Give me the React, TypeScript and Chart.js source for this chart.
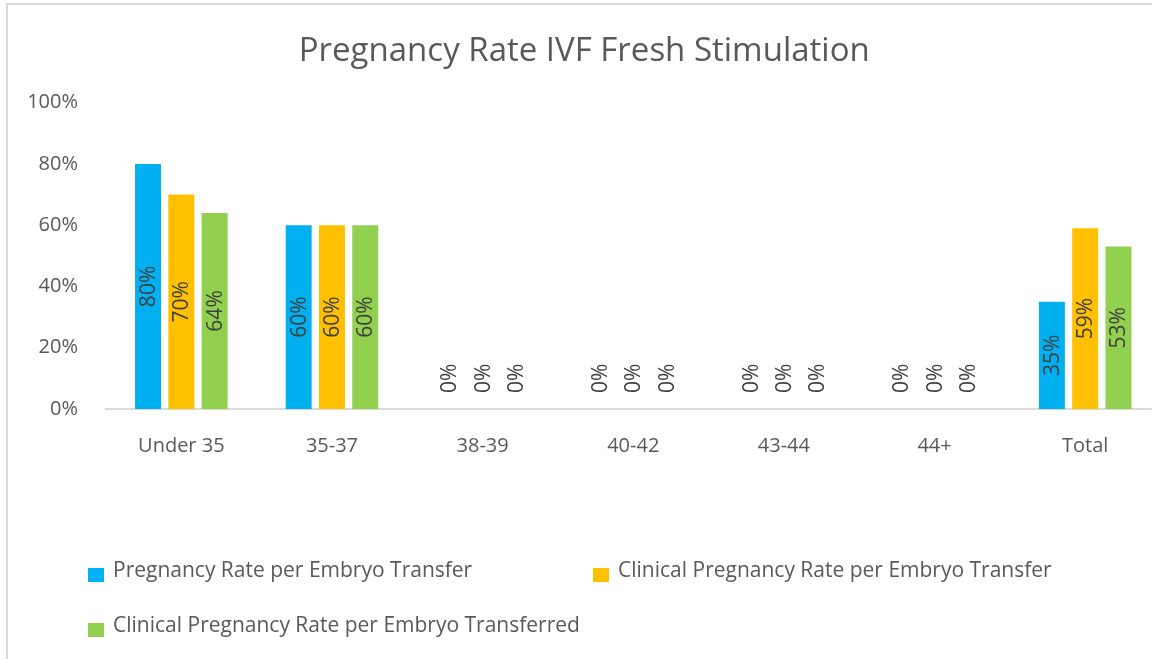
import React, { useEffect, useRef } from "react";
import { Chart, registerables } from "chart.js";

Chart.register(...registerables);

const TITLE = "Pregnancy Rate IVF Fresh Stimulation";
const CATEGORIES = ["Under 35", "35-37", "38-39", "40-42", "43-44", "44+", "Total"];
const SERIES_NAMES = [
  "Pregnancy Rate per Embryo Transfer",
  "Clinical Pregnancy Rate per Embryo Transfer",
  "Clinical Pregnancy Rate per Embryo Transferred",
];
const PREG_RATE_PER_TRANSFER = [0.8, 0.6, 0, 0, 0, 0, 0.35];
const CLIN_RATE_PER_TRANSFER = [0.7, 0.6, 0, 0, 0, 0, 0.59];
const CLIN_RATE_PER_TRANSFERRED = [0.64, 0.6, 0, 0, 0, 0, 0.53];
const COLORS = ["#00B0F0", "#FFC000", "#92D050"];
const Y_TICKS = [0, 0.2, 0.4, 0.6, 0.8, 1.0];

const FONT = '"Open Sans", "DejaVu Sans", sans-serif';
const TEXT_COLOR = "#595959";
const LABEL_COLOR = "#404040";

const barLabelPlugin = {
  id: "barLabels",
  afterDatasetsDraw(chart: any) {
    const ctx = chart.ctx;
    ctx.save();
    ctx.font = `21px ${FONT}`;
    ctx.fillStyle = LABEL_COLOR;
    ctx.textAlign = "center";
    ctx.textBaseline = "middle";
    chart.data.datasets.forEach((ds: any, i: number) => {
      const meta = chart.getDatasetMeta(i);
      meta.data.forEach((bar: any, j: number) => {
        const v = ds.data[j];
        const text = Math.round(v * 100) + "%";
        const w = ctx.measureText(text).width;
        const { x, y, base } = bar.getProps(["x", "y", "base"], true);
        let cy = (y + base) / 2;
        cy = Math.min(cy, base - 16 - w / 2);
        ctx.save();
        ctx.translate(x, cy);
        ctx.rotate(-Math.PI / 2);
        ctx.fillText(text, 0, 1);
        ctx.restore();
      });
    });
    ctx.restore();
  },
};

const legendPlugin = {
  id: "customLegend",
  afterDraw(chart: any) {
    const ctx = chart.ctx;
    const left = chart.chartArea.left - 18;
    const colW = 505;
    const rowH = 55;
    const baseY = 572;
    ctx.save();
    ctx.font = `21px ${FONT}`;
    ctx.textAlign = "left";
    ctx.textBaseline = "alphabetic";
    chart.data.datasets.forEach((ds: any, i: number) => {
      const col = i % 2;
      const row = Math.floor(i / 2);
      const x = left + col * colW;
      const y = baseY + row * rowH;
      ctx.fillStyle = ds.backgroundColor;
      ctx.fillRect(x, y - 9, 16, 14);
      ctx.fillStyle = TEXT_COLOR;
      ctx.fillText(ds.label, x + 25, y);
    });
    ctx.restore();
  },
};

export default function App() {
  const canvasRef = useRef<HTMLCanvasElement>(null);

  useEffect(() => {
    if (!canvasRef.current) return;
    Chart.defaults.font.family = FONT;
    Chart.defaults.color = TEXT_COLOR;
    const seriesValues = [PREG_RATE_PER_TRANSFER, CLIN_RATE_PER_TRANSFER, CLIN_RATE_PER_TRANSFERRED];
    const chart = new Chart(canvasRef.current, {
      type: "bar",
      data: {
        labels: CATEGORIES,
        datasets: SERIES_NAMES.map((name, i) => ({
          label: name,
          data: seriesValues[i],
          backgroundColor: COLORS[i],
          borderWidth: 0,
          categoryPercentage: 0.663,
          barPercentage: 0.78,
        })),
      },
      options: {
        animation: false,
        responsive: true,
        maintainAspectRatio: false,
        layout: { padding: { left: 0, right: 7.5, top: 0, bottom: 182 } },
        plugins: {
          legend: { display: false },
          tooltip: { enabled: false },
          title: {
            display: true,
            text: TITLE,
            color: TEXT_COLOR,
            font: { size: 33, weight: "normal", family: FONT },
            padding: { top: 27, bottom: 31 },
          },
        },
        scales: {
          x: {
            grid: { display: false, drawTicks: false },
            border: { display: true, color: "#d9d9d9", width: 2 },
            ticks: { color: TEXT_COLOR, font: { size: 20 }, padding: 25, maxRotation: 0 },
          },
          y: {
            min: 0,
            max: 1,
            afterBuildTicks: (scale: any) => {
              scale.ticks = Y_TICKS.map((v) => ({ value: v }));
            },
            afterFit: (scale: any) => {
              scale.width = 98;
            },
            grid: { display: false, drawTicks: false },
            border: { display: false },
            ticks: {
              color: TEXT_COLOR,
              font: { size: 20 },
              padding: 28,
              callback: (v: any) => Math.round(Number(v) * 100) + "%",
            },
          },
        },
      },
      plugins: [barLabelPlugin, legendPlugin],
    });
    return () => chart.destroy();
  }, []);

  return (
    <div
      style={{
        position: "absolute",
        left: 0,
        top: 0,
        width: 1152,
        height: 659,
        overflow: "hidden",
        background: "#fff",
      }}
    >
      <div
        style={{
          position: "absolute",
          left: 6,
          top: 3,
          width: 1164,
          height: 670,
          border: "2px solid #d9d9d9",
          boxSizing: "border-box",
        }}
      >
        <div style={{ position: "relative", width: 1160, height: 660 }}>
          <canvas ref={canvasRef} />
        </div>
      </div>
    </div>
  );
}
